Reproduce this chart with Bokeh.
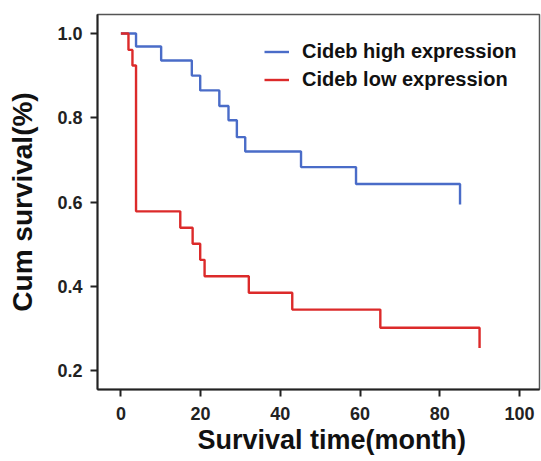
from bokeh.plotting import figure
from bokeh.models import Range1d, FixedTicker, Legend, LegendItem, NumeralTickFormatter, Title
from bokeh.embed import file_html
from bokeh.resources import INLINE

# Kaplan-Meier data
high_time = [0, 3.8, 10.1, 17.8, 19.9, 24.7, 27.0, 29.1, 31.2, 45.2, 59.0, 85.1]
high_surv = [1.0, 0.969, 0.936, 0.900, 0.865, 0.828, 0.794, 0.754, 0.720, 0.683, 0.643, 0.594]
low_time = [0, 1.9, 2.9, 3.8, 14.9, 18.0, 19.9, 21.0, 32.1, 43.0, 65.1, 90.0]
low_surv = [1.0, 0.961, 0.924, 0.578, 0.539, 0.501, 0.463, 0.424, 0.385, 0.345, 0.302, 0.254]
x_ticks = [0, 20, 40, 60, 80, 100]
y_ticks = [0.2, 0.4, 0.6, 0.8, 1.0]
series_names = ["Cideb high expression", "Cideb low expression"]
x_title = "Survival time(month)"
y_title = "Cum survival(%)"

BLUE = "#4a6cc8"
RED = "#dc2a2a"
FONT = "Liberation Sans"

p = figure(width=541, height=461, output_backend="svg", toolbar_location=None,
           x_range=Range1d(-5.87, 105.04), y_range=Range1d(0.1554, 1.045),
           min_border_left=97, min_border_right=2, min_border_top=14, min_border_bottom=72)

p.xgrid.visible = False
p.ygrid.visible = False
p.outline_line_color = "#555555"
p.outline_line_width = 1.5

r_high = p.step(high_time, high_surv, mode="after", line_color=BLUE, line_width=2.4)
r_low = p.step(low_time, low_surv, mode="after", line_color=RED, line_width=2.4)

for ax in (p.xaxis[0], p.yaxis[0]):
    ax.axis_line_color = "#222222"
    ax.axis_line_width = 2
    ax.major_tick_line_color = "#222222"
    ax.major_tick_line_width = 2
    ax.major_tick_out = 7
    ax.major_tick_in = 0
    ax.minor_tick_line_color = None
    ax.major_label_text_font = FONT
    ax.major_label_text_font_style = "bold"
    ax.major_label_text_font_size = "18px"
    ax.major_label_text_color = "#222222"
    ax.axis_label_text_font = FONT
    ax.axis_label_text_font_style = "bold"
    ax.axis_label_text_color = "#111111"

p.yaxis.axis_label_text_font_size = "28px"
p.xaxis.ticker = FixedTicker(ticks=x_ticks)
p.yaxis.ticker = FixedTicker(ticks=y_ticks)
p.yaxis.formatter = NumeralTickFormatter(format="0.0")
p.yaxis.axis_label = y_title
p.xaxis.major_label_standoff = 10
p.yaxis.major_label_standoff = 8
p.yaxis.axis_label_standoff = 16

# x-axis title, shifted right of the frame centre as in the reference
p.add_layout(Title(text=x_title, align="left", offset=100, standoff=0,
                   text_font=FONT, text_font_style="bold", text_font_size="27px",
                   text_color="#111111"), "below")

legend = Legend(items=[LegendItem(label=series_names[0], renderers=[r_high]),
                       LegendItem(label=series_names[1], renderers=[r_low])],
                location=(167, 298), padding=5, spacing=5,
                glyph_width=25, glyph_height=23, label_height=23, label_standoff=13,
                label_text_font=FONT, label_text_font_style="bold",
                label_text_font_size="20px", label_text_color="#111111",
                border_line_color=None, background_fill_alpha=0)
p.add_layout(legend)

open("out.html", "w").write(file_html(p, INLINE))
